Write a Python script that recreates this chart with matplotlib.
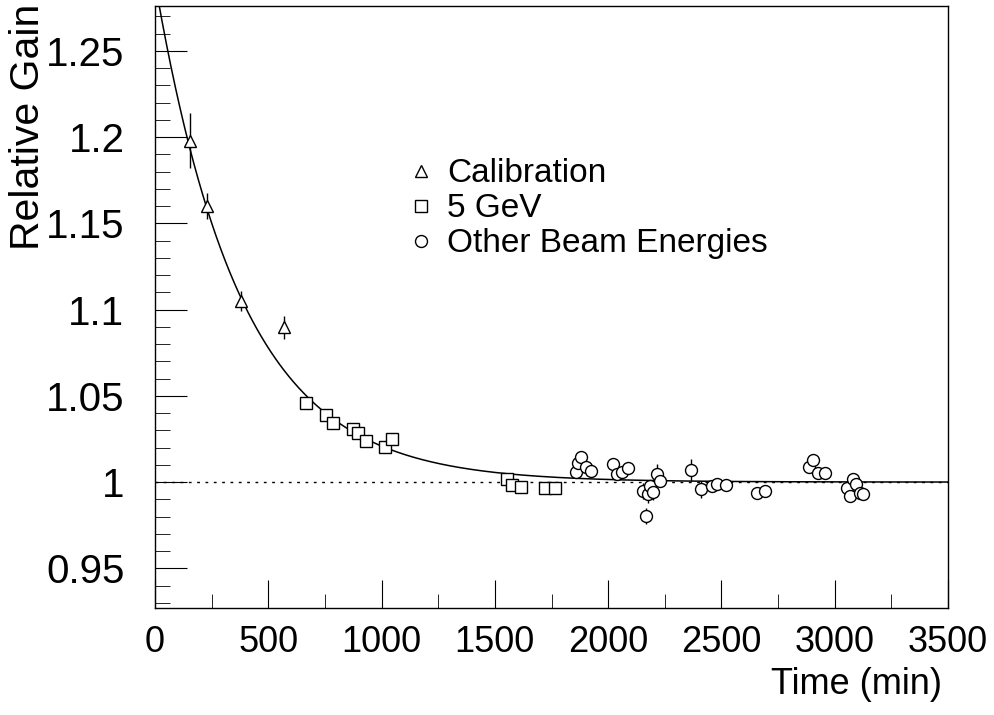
import numpy as np
import matplotlib.pyplot as plt
from matplotlib.lines import Line2D

plt.rcParams['font.family'] = ['Liberation Sans', 'DejaVu Sans']

# ============================================================
# Data
# ============================================================
calib_t = [154, 228, 378, 568]
calib_g = [1.198, 1.160, 1.105, 1.0897]
calib_e = [0.0157, 0.0076, 0.0060, 0.0065]

gev5_t = [665, 756, 787, 874, 897, 930, 1015, 1045, 1552, 1577, 1617, 1720, 1764]
gev5_g = [1.0458, 1.0388, 1.0345, 1.0310, 1.0283, 1.0240, 1.0202, 1.0248,
          1.0016, 0.9983, 0.9971, 0.9963, 0.9963]
gev5_e = [0.002, 0.002, 0.002, 0.002, 0.002, 0.002, 0.002, 0.002,
          0.002, 0.002, 0.002, 0.002, 0.002]

other_t = [1857, 1866, 1880, 1902, 1926, 2023, 2038, 2060, 2089,
           2155, 2166, 2174, 2185, 2196, 2214, 2229,
           2364, 2411, 2457, 2479, 2519, 2655, 2692,
           2887, 2906, 2928, 2957,
           3053, 3068, 3082, 3093, 3112, 3123]
other_g = [1.0058, 1.0112, 1.0147, 1.0087, 1.0064, 1.0106, 1.0048, 1.0058, 1.0081,
           0.9948, 0.9802, 0.9928, 0.9977, 0.9942, 1.0045, 1.0006,
           1.0070, 0.9957, 0.9977, 0.9987, 0.9981, 0.9934, 0.9948,
           1.0087, 1.0126, 1.0054, 1.0054,
           0.9967, 0.9919, 1.0016, 0.9990, 0.9938, 0.9932]
other_e = [0.002, 0.002, 0.002, 0.002, 0.002, 0.002, 0.002, 0.002, 0.002,
           0.0047, 0.0047, 0.0047, 0.003, 0.0047, 0.0060, 0.003,
           0.0064, 0.0052, 0.002, 0.002, 0.002, 0.002, 0.002,
           0.002, 0.002, 0.002, 0.002,
           0.002, 0.002, 0.002, 0.002, 0.002, 0.002]

# exponential fit: 1 + A * exp(-t / tau)
fit_A = 0.29
fit_tau = 380.0

legend_labels = ["Calibration", "5 GeV", "Other Beam Energies"]

# ============================================================
# Figure
# ============================================================
fig = plt.figure(figsize=(9.95, 7.15), dpi=100)
ax = fig.add_axes([155 / 995, 1 - 608 / 715, 793 / 995, 602 / 715])

t_fit = np.linspace(0, 3500, 700)
ax.plot(t_fit, 1 + fit_A * np.exp(-t_fit / fit_tau), color="black", lw=1.1)
ax.plot([0, 3500], [1, 1], color="black", lw=1, ls=(0, (2, 4)))

ms = 8.6
kw = dict(fmt="none", ecolor="black", elinewidth=1, capsize=0)
ax.errorbar(calib_t, calib_g, yerr=calib_e, **kw)
ax.errorbar(gev5_t, gev5_g, yerr=gev5_e, **kw)
ax.errorbar(other_t, other_g, yerr=other_e, **kw)
mk = dict(ls="none", mfc="white", mec="black", mew=1, ms=ms)
ax.plot(calib_t, calib_g, marker="^", **mk)
ax.plot(gev5_t, gev5_g, marker="s", **mk)
ax.plot(other_t, other_g, marker="o", **mk)

ax.set_xlim(0, 3500)
ax.set_ylim(0.927, 1.276)
ax.set_xticks(np.arange(0, 3501, 500))
ax.set_xticks(np.arange(0, 3501, 250), minor=True)
ax.set_yticks([0.95, 1.0, 1.05, 1.1, 1.15, 1.2, 1.25])
ax.set_yticklabels(["0.95", "1", "1.05", "1.1", "1.15", "1.2", "1.25"])
ax.set_yticks(np.arange(0.93, 1.2751, 0.01), minor=True)
ax.tick_params(axis="both", which="both", direction="in")
ax.tick_params(axis="x", which="major", length=20, pad=12, labelsize=26)
ax.tick_params(axis="x", which="minor", length=10)
ax.tick_params(axis="y", which="major", length=23, pad=22, labelsize=29)
ax.tick_params(axis="y", which="minor", length=11)
for s in ax.spines.values():
    s.set_linewidth(1)

handles = [Line2D([], [], marker=m, **mk) for m in ["^", "s", "o"]]
ax.legend(handles, legend_labels, loc="upper left", bbox_to_anchor=(0.315, 0.747),
          frameon=False, fontsize=24, handlelength=1.0, handletextpad=0.27,
          labelspacing=0.12, borderpad=0, borderaxespad=0)

fig.text(28 / 995, 1 - 4 / 715, "Relative Gain", rotation=90, fontsize=29.5,
         ha="center", va="top")
fig.text(942 / 995, 30 / 715, "Time (min)", fontsize=26, ha="right", va="center")

fig.savefig("out.png", dpi=100)
